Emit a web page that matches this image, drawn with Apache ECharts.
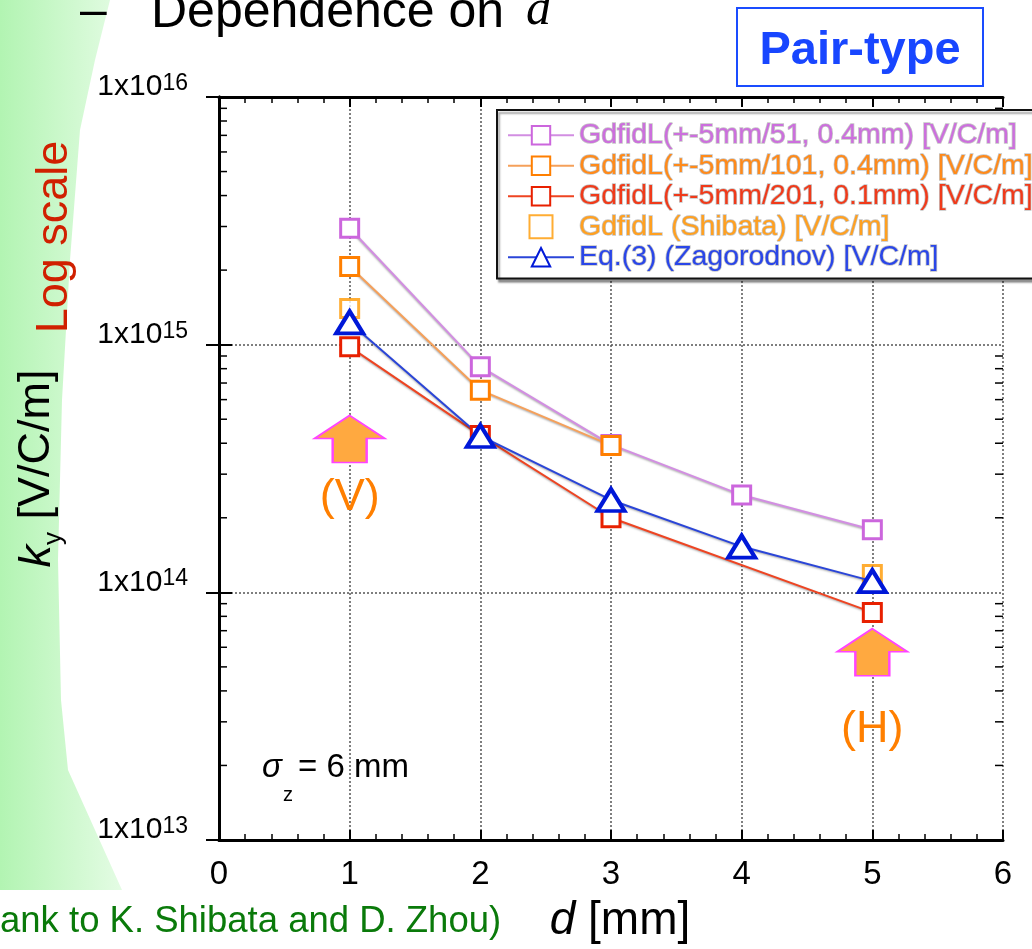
<!DOCTYPE html>
<html>
<head>
<meta charset="utf-8">
<script src="https://cdn.jsdelivr.net/npm/echarts@6/dist/echarts.min.js"></script>
<style>
  html, body { margin: 0; padding: 0; background: #fff; }
  #chart { width: 1032px; height: 949px; }
</style>
</head>
<body>
<div id="chart"></div>
<script>
// values (k_y in V/C/m against d in mm)
const dValues = [1, 2, 3, 4, 5];
const gdfidl51 = [2.95e15, 8.15e14, 3.95e14, 2.47e14, 1.79e14];
const gdfidl101 = [[1, 2.07e15], [2, 6.55e14], [3, 3.92e14]];
const gdfidl201 = [[1, 0.98e15], [2, 4.3e14], [3, 2.0e14], [5, 8.3e13]];
const shibata = [[1, 1.4e15], [5, 1.18e14]];
const zagorodnov = [1.23e15, 4.28e14, 2.36e14, 1.53e14, 1.11e14];

const seriesNames = [
  'GdfidL(+-5mm/51, 0.4mm) [V/C/m]',
  'GdfidL(+-5mm/101, 0.4mm) [V/C/m]',
  'GdfidL(+-5mm/201, 0.1mm) [V/C/m]',
  'GdfidL (Shibata) [V/C/m]',
  'Eq.(3) (Zagorodnov) [V/C/m]'
];
const textColors = ['#cc6fdd', '#ff8a1a', '#f03a1a', '#ffa020', '#2a46e8'];

// minor log ticks (2..9 in each decade)
const minorY = [2e13, 3e13, 4e13, 5e13, 6e13, 7e13, 8e13, 9e13,
  2e14, 3e14, 4e14, 5e14, 6e14, 7e14, 8e14, 9e14,
  2e15, 3e15, 4e15, 5e15, 6e15, 7e15, 8e15, 9e15];

// arrows (V) and (H): [d, k_y of arrow centre, k_y of label]
const arrowV = [1, 4.16e14, 2.42e14];
const arrowH = [5, 5.73e13, 2.8e13];

const font = '"Liberation Sans", Arial, sans-serif';
const arrowPath = 'path://M35,0 L70,23 L52,23 L52,47 L18,47 L18,23 L0,23 Z';
const squareIcon = 'path://M0,0 L10,0 L10,10 L0,10 Z';

const chart = echarts.init(document.getElementById('chart'));

const halo = { shadowColor: 'rgba(0,0,0,0.35)', shadowBlur: 2, shadowOffsetY: 1 };

chart.setOption({
  backgroundColor: '#fff',
  animation: false,
  grid: { left: 219, right: 29, top: 97, bottom: 109, outerBoundsMode: 'none', containLabel: false },
  legend: {
    orient: 'vertical',
    left: 497,
    top: 110,
    padding: [10, 8, 6, 10],
    itemGap: 0,
    itemWidth: 66,
    itemHeight: 23,
    backgroundColor: '#fff',
    borderColor: '#111',
    borderWidth: 2,
    shadowColor: 'rgba(0,0,0,0.35)',
    shadowOffsetX: 2,
    shadowOffsetY: 3,
    shadowBlur: 2,
    textStyle: {
      fontFamily: font, fontSize: 28.5, lineHeight: 28,
      textBorderColor: 'rgba(150,150,150,0.55)', textBorderWidth: 1.5
    },
    data: seriesNames.map((n, i) => i === 3
      ? { name: n, icon: squareIcon, textStyle: { color: textColors[i] } }
      : { name: n, textStyle: { color: textColors[i] } })
  },
  xAxis: [{
    type: 'value', min: 0, max: 6, interval: 1,
    name: '{d|d}{n| [mm]}',
    nameLocation: 'middle', nameGap: 58,
    nameTextStyle: {
      padding: [0, 0, 0, 18],
      rich: {
        d: { fontFamily: font, fontStyle: 'italic', fontSize: 46, color: '#000' },
        n: { fontFamily: font, fontSize: 46, color: '#000' }
      }
    },
    axisLine: { lineStyle: { color: '#000', width: 3 } },
    axisTick: { inside: true, length: 10, lineStyle: { color: '#000', width: 2 } },
    minorTick: { show: true, splitNumber: 5, length: 6, lineStyle: { color: '#000', width: 1.5 } },
    axisLabel: { margin: 18, fontFamily: font, fontSize: 33, color: '#000' },
    splitLine: { show: true, lineStyle: { color: '#555', width: 1.5, type: [2, 2] } }
  }, {
    type: 'value', min: 0, max: 6, interval: 1, position: 'top',
    axisLine: { lineStyle: { color: '#000', width: 3 } },
    axisTick: { inside: true, length: 10, lineStyle: { color: '#000', width: 2 } },
    minorTick: { show: true, splitNumber: 5, length: 6, lineStyle: { color: '#000', width: 1.5 } },
    axisLabel: { show: false },
    splitLine: { show: false }
  }],
  yAxis: [{
    type: 'log', logBase: 10, min: 1e13, max: 1e16,
    name: '{k|k}{sub|y}{n| [V/C/m]}',
    nameLocation: 'middle', nameRotate: 90, nameGap: 152,
    nameTextStyle: {
      rich: {
        k: { fontFamily: font, fontStyle: 'italic', fontSize: 45, color: '#000', lineHeight: 60 },
        sub: { fontFamily: font, fontSize: 26, color: '#000', lineHeight: 30, verticalAlign: 'bottom' },
        n: { fontFamily: font, fontSize: 45, color: '#000', lineHeight: 60 }
      }
    },
    axisLine: { show: true, lineStyle: { color: '#000', width: 3 } },
    axisTick: { inside: true, length: 13, lineStyle: { color: '#000', width: 2 } },
    axisLabel: {
      margin: 31,
      padding: [0, 0, 20, 0],
      verticalAlignMinLabel: 'middle',
      verticalAlignMaxLabel: 'middle',
      formatter: v => '{b|1x10}{e|' + Math.round(Math.log10(v)) + '}',
      rich: {
        b: { fontFamily: font, fontSize: 30, color: '#000', lineHeight: 30, verticalAlign: 'bottom' },
        e: { fontFamily: font, fontSize: 23, color: '#000', lineHeight: 26, verticalAlign: 'top' }
      }
    },
    splitLine: { show: true, lineStyle: { color: '#555', width: 1.5, type: [2, 2] } }
  }, {
    type: 'log', logBase: 10, min: 1e13, max: 1e16, position: 'right',
    axisLine: { show: true, lineStyle: { color: '#000', width: 3 } },
    axisTick: { inside: true, length: 13, lineStyle: { color: '#000', width: 2 } },
    axisLabel: { show: false },
    splitLine: { show: false }
  }],
  graphic: [
    {
      type: 'polygon', z: -10, silent: true,
      shape: { points: [[0, 0], [110, 0], [95, 60], [80, 130], [70, 260], [62, 400], [58, 560], [61, 700], [68, 770], [122, 890], [0, 890]] },
      style: {
        fill: new echarts.graphic.LinearGradient(0, 0, 1, 0, [
          { offset: 0, color: '#b2f4b2' },
          { offset: 1, color: '#e4fce4' }
        ])
      }
    },
    { type: 'text', x: 80, y: 13, style: { text: '–', font: '48px ' + font, fill: '#000', verticalAlign: 'middle' } },
    { type: 'text', x: 151, y: 13, style: { text: 'Dependence on', font: '50px ' + font, fill: '#000', verticalAlign: 'middle' } },
    { type: 'text', x: 526, y: 11, style: { text: 'd', font: 'italic 50px "Liberation Serif", serif', fill: '#000', verticalAlign: 'middle' } },
    { type: 'rect', shape: { x: 737, y: 8, width: 246, height: 78 }, style: { fill: '#fff', stroke: '#1a4cff', lineWidth: 2 } },
    { type: 'text', x: 860, y: 51, style: { text: 'Pair-type', font: 'bold 47px ' + font, fill: '#1846ff', align: 'center', verticalAlign: 'middle' } },
    { type: 'text', x: 55, y: 237, rotation: Math.PI / 2, style: { text: 'Log scale', font: '45px ' + font, fill: '#d02000', align: 'center', verticalAlign: 'middle' } },
    { type: 'text', x: 0, y: 922, style: { text: 'ank to K. Shibata and D. Zhou)', font: '36.5px ' + font, fill: '#0a7a0a', verticalAlign: 'middle' } },
    { type: 'text', x: 262, y: 768, style: { text: 'σ', font: 'italic 33px ' + font, fill: '#000', verticalAlign: 'middle' } },
    { type: 'text', x: 283, y: 795, style: { text: 'z', font: '20px ' + font, fill: '#000', verticalAlign: 'middle' } },
    { type: 'text', x: 298, y: 768, style: { text: '= 6 mm', font: '33px ' + font, fill: '#000', verticalAlign: 'middle' } }
  ],
  series: [
    {
      name: seriesNames[0], type: 'line',
      data: dValues.map((d, i) => [d, gdfidl51[i]]),
      symbol: 'rect', symbolSize: 18,
      itemStyle: { color: '#fff', borderColor: '#cc66dd', borderWidth: 3 },
      lineStyle: Object.assign({ color: '#d28ee2', width: 2 }, halo)
    },
    {
      name: seriesNames[1], type: 'line', data: gdfidl101,
      symbol: 'rect', symbolSize: 18,
      itemStyle: { color: '#fff', borderColor: '#ff7f00', borderWidth: 3 },
      lineStyle: Object.assign({ color: '#f5a05a', width: 2 }, halo)
    },
    {
      name: seriesNames[2], type: 'line', data: gdfidl201,
      symbol: 'rect', symbolSize: 18,
      itemStyle: { color: '#fff', borderColor: '#e82000', borderWidth: 3 },
      lineStyle: Object.assign({ color: '#ee4422', width: 2 }, halo),
      markPoint: {
        silent: true,
        data: [
          { coord: [arrowV[0], arrowV[1]], symbol: arrowPath, symbolSize: [70, 47],
            itemStyle: { color: '#ffa940', borderColor: '#ff44ff', borderWidth: 2 }, label: { show: false } },
          { coord: [arrowH[0], arrowH[1]], symbol: arrowPath, symbolSize: [70, 47],
            itemStyle: { color: '#ffa940', borderColor: '#ff44ff', borderWidth: 2 }, label: { show: false } },
          { coord: [arrowV[0], arrowV[2]], symbol: 'circle', symbolSize: 1, itemStyle: { color: 'rgba(0,0,0,0)' },
            label: { show: true, position: 'inside', formatter: '(V)', fontFamily: font, fontSize: 45, color: '#ff7f00' } },
          { coord: [arrowH[0], arrowH[2]], symbol: 'circle', symbolSize: 1, itemStyle: { color: 'rgba(0,0,0,0)' },
            label: { show: true, position: 'inside', formatter: '(H)', fontFamily: font, fontSize: 45, color: '#ff7f00' } }
        ]
      }
    },
    {
      name: seriesNames[3], type: 'scatter', data: shibata,
      symbol: 'rect', symbolSize: 18,
      itemStyle: { color: '#fff', borderColor: '#ff9900', borderWidth: 3 }
    },
    {
      name: seriesNames[4], type: 'line',
      data: dValues.map((d, i) => [d, zagorodnov[i]]),
      symbol: 'triangle', symbolSize: [27, 22],
      itemStyle: { color: '#fff', borderColor: '#0018d8', borderWidth: 4 },
      lineStyle: Object.assign({ color: '#2a45d8', width: 2 }, halo)
    },
    {
      name: 'minor ticks', type: 'custom', silent: true,
      data: minorY.map(v => [0, v]),
      renderItem: (params, api) => {
        const v = api.value(1);
        const l = api.coord([0, v]);
        const r = api.coord([6, v]);
        const st = { stroke: '#000', lineWidth: 1.5 };
        return {
          type: 'group', children: [
            { type: 'line', shape: { x1: l[0], y1: l[1], x2: l[0] + 8, y2: l[1] }, style: st },
            { type: 'line', shape: { x1: r[0] - 8, y1: r[1], x2: r[0], y2: r[1] }, style: st }
          ]
        };
      }
    }
  ]
});
</script>
</body>
</html>
